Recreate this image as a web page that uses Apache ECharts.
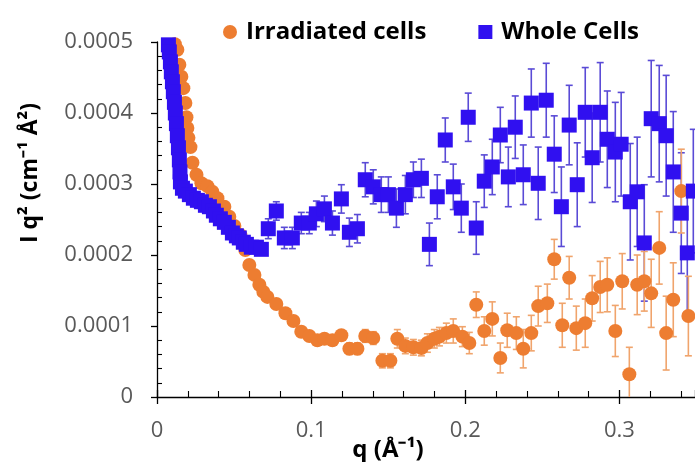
<!DOCTYPE html>
<html>
<head>
<meta charset="utf-8">
<script src="https://cdn.jsdelivr.net/npm/echarts@6/dist/echarts.min.js"></script>
<style>
html, body { margin: 0; padding: 0; background: #fff; }
#chart { width: 695px; height: 462px; }
</style>
</head>
<body>
<div id="chart"></div>
<script>
'use strict';

// intensities and errors are in units of 1e-4 cm^-1 A^-2
var UNIT = 1e-4;

var irrQ = [
    0.0116, 0.0132, 0.0145, 0.0158, 0.0171, 0.0184, 0.0191, 0.0197, 0.0204, 0.0217,
    0.0230, 0.0256, 0.0288, 0.0327, 0.0359, 0.0392, 0.0437, 0.0469, 0.0502, 0.0541,
    0.0573, 0.0599, 0.0632, 0.0664, 0.0690, 0.0716, 0.0774, 0.0833, 0.0885, 0.0936,
    0.0988, 0.1040, 0.1086, 0.1138, 0.1196, 0.1248, 0.1300, 0.1351, 0.1403, 0.1462,
    0.1514, 0.1559, 0.1611, 0.1663, 0.1715, 0.1754, 0.1799, 0.1832, 0.1877, 0.1922,
    0.1981, 0.2026, 0.2071, 0.2123, 0.2175, 0.2227, 0.2272, 0.2331, 0.2376, 0.2428,
    0.2473, 0.2532, 0.2577, 0.2629, 0.2674, 0.2720, 0.2778, 0.2823, 0.2875, 0.2921,
    0.2973, 0.3018, 0.3064, 0.3115, 0.3161, 0.3206, 0.3258, 0.3303, 0.3349, 0.3401,
    0.3447
];
var irrI = [
    4.97, 4.89, 4.68, 4.51, 4.35, 4.14, 3.94, 3.79, 3.65, 3.52,
    3.30, 3.13, 3.01, 2.97, 2.89, 2.80, 2.68, 2.54, 2.41, 2.28,
    2.07, 1.86, 1.72, 1.58, 1.48, 1.41, 1.31, 1.18, 1.07, 0.92,
    0.86, 0.80, 0.82, 0.80, 0.87, 0.68, 0.68, 0.86, 0.83, 0.51,
    0.51, 0.82, 0.72, 0.70, 0.69, 0.76, 0.82, 0.85, 0.90, 0.93,
    0.85, 0.76, 1.30, 0.93, 1.10, 0.55, 0.94, 0.90, 0.68, 0.90,
    1.28, 1.32, 1.94, 1.01, 1.68, 0.97, 1.04, 1.39, 1.55, 1.58,
    0.93, 1.63, 0.32, 1.58, 1.63, 1.46, 2.10, 0.90, 1.37, 2.90,
    1.14
];
var irrErr = [
    0, 0, 0, 0, 0, 0, 0, 0, 0, 0,
    0, 0, 0, 0, 0, 0, 0, 0, 0, 0,
    0, 0, 0, 0, 0, 0, 0, 0, 0, 0,
    0, 0, 0, 0, 0, 0.08, 0.08, 0.09, 0.09, 0.10,
    0.10, 0.13, 0.11, 0.11, 0.11, 0.13, 0.13, 0.13, 0.14, 0.17,
    0.14, 0.15, 0.18, 0.20, 0.24, 0.21, 0.24, 0.23, 0.27, 0.25,
    0.28, 0.27, 0.28, 0.31, 0.30, 0.31, 0.34, 0.32, 0.36, 0.38,
    0.36, 0.39, 0.38, 0.42, 0.42, 0.48, 0.51, 0.52, 0.52, 0.59,
    0.56
];

var wholeQ = [
    0.0074, 0.0080, 0.0087, 0.0093, 0.0100, 0.0106, 0.0113, 0.0119, 0.0126, 0.0132,
    0.0139, 0.0145, 0.0149, 0.0152, 0.0165, 0.0184,
    0.0210, 0.0236, 0.0262, 0.0288, 0.0314, 0.0340, 0.0366, 0.0385, 0.0411, 0.0437,
    0.0463, 0.0489, 0.0515, 0.0534, 0.0560, 0.0580, 0.0612, 0.0645, 0.0677,
    0.0722, 0.0774, 0.0826, 0.0878, 0.0936, 0.0988, 0.1034, 0.1086, 0.1138, 0.1196,
    0.1248, 0.1300, 0.1351, 0.1403, 0.1455, 0.1501, 0.1553, 0.1611, 0.1663, 0.1715,
    0.1767, 0.1818, 0.1870, 0.1922, 0.1974, 0.2019, 0.2071, 0.2123, 0.2175, 0.2227,
    0.2279, 0.2324, 0.2376, 0.2428, 0.2473, 0.2525, 0.2577, 0.2623, 0.2674, 0.2726,
    0.2778, 0.2823, 0.2875, 0.2921, 0.2973, 0.3011, 0.3070, 0.3115, 0.3161, 0.3206,
    0.3258, 0.3303, 0.3349, 0.3401, 0.3440, 0.3479
];
var wholeI = [
    4.96, 4.86, 4.72, 4.58, 4.44, 4.30, 4.15, 4.00, 3.85, 3.68,
    3.51, 3.34, 3.17, 3.03, 2.94, 2.90,
    2.85, 2.80, 2.77, 2.75, 2.70, 2.68, 2.62, 2.56, 2.51, 2.46,
    2.39, 2.31, 2.27, 2.24, 2.18, 2.15, 2.11, 2.11, 2.08,
    2.37, 2.62, 2.24, 2.24, 2.45, 2.45, 2.58, 2.65, 2.45, 2.79,
    2.32, 2.37, 3.06, 2.96, 2.85, 2.85, 2.66, 2.85, 3.06, 3.08,
    2.15, 2.82, 3.62, 2.96, 2.66, 3.94, 2.38, 3.04, 3.24, 3.69,
    3.10, 3.80, 3.13, 4.14, 3.01, 4.18, 3.42, 2.68, 3.83, 2.99,
    4.01, 3.37, 4.01, 3.63, 3.45, 3.56, 2.75, 2.89, 2.17, 3.92,
    3.85, 3.68, 3.17, 2.59, 2.03, 2.90
];
var wholeErr = [
    0, 0, 0, 0, 0, 0, 0, 0, 0, 0,
    0, 0, 0, 0, 0, 0,
    0.05, 0.05, 0.05, 0.05, 0.05, 0.05, 0.05, 0.05, 0.05, 0.05,
    0.05, 0.05, 0.05, 0.05, 0.05, 0.05, 0.06, 0.06, 0.06,
    0.14, 0.13, 0.15, 0.15, 0.15, 0.15, 0.18, 0.18, 0.17, 0.20,
    0.20, 0.20, 0.24, 0.24, 0.25, 0.25, 0.27, 0.27, 0.25, 0.27,
    0.30, 0.31, 0.31, 0.32, 0.34, 0.34, 0.37, 0.37, 0.39, 0.39,
    0.42, 0.44, 0.42, 0.48, 0.51, 0.52, 0.54, 0.56, 0.56, 0.59,
    0.63, 0.63, 0.70, 0.68, 0.70, 0.73, 0.82, 0.77, 0.82, 0.82,
    0.82, 0.85, 0.85, 0.85, 0.87, 0.87
];

var seriesNames = ['Irradiated cells', 'Whole Cells'];
var colors = ['#ED7D31', '#3010F0'];
var errColors = ['#F0A46C', '#5A4BD6'];

var points = function (qs, vals) {
    return qs.map(function (q, i) { return [q, vals[i] * UNIT]; });
};
var bars = function (qs, vals, errs) {
    var out = [];
    qs.forEach(function (q, i) {
        if (errs[i] > 0) {
            out.push([q, (vals[i] - errs[i]) * UNIT, (vals[i] + errs[i]) * UNIT]);
        }
    });
    return out;
};
var renderBar = function (color) {
    return function (params, api) {
        var lo = api.coord([api.value(0), api.value(1)]);
        var hi = api.coord([api.value(0), api.value(2)]);
        var cap = 3.5;
        var style = { stroke: color, lineWidth: 1.6 };
        return {
            type: 'group',
            children: [
                { type: 'line', shape: { x1: lo[0], y1: lo[1], x2: hi[0], y2: hi[1] }, style: style },
                { type: 'line', shape: { x1: lo[0] - cap, y1: lo[1], x2: lo[0] + cap, y2: lo[1] }, style: style },
                { type: 'line', shape: { x1: hi[0] - cap, y1: hi[1], x2: hi[0] + cap, y2: hi[1] }, style: style }
            ]
        };
    };
};

var X_MAX = 0.349;
var labelFont = { fontFamily: 'Open Sans', fontSize: 22, color: '#595959' };

var chart = echarts.init(document.getElementById('chart'));
chart.setOption({
    animation: false,
    backgroundColor: '#fff',
    grid: { left: 157, right: 0, top: 42, bottom: 65 },
    legend: {
        data: [
            { name: seriesNames[0], icon: 'circle' },
            { name: seriesNames[1], icon: 'rect' }
        ],
        left: 218,
        top: 15,
        itemWidth: 14,
        itemHeight: 14,
        itemGap: 52,
        textStyle: { fontFamily: 'Open Sans', fontWeight: 'bold', fontSize: 24, color: '#000', padding: [0, 0, 0, 4] }
    },
    xAxis: [{
        type: 'value', min: 0, max: X_MAX, interval: 0.1, position: 'bottom',
        axisLine: { lineStyle: { color: '#000', width: 1.3 } },
        axisTick: { length: 7, lineStyle: { color: '#000', width: 1.3 } },
        axisLabel: Object.assign({ margin: 23, showMaxLabel: false, formatter: function (v) { return v === 0 ? '0' : v.toFixed(1); } }, labelFont),
        splitLine: { show: false }
    }, {
        type: 'value', min: 0, max: X_MAX, interval: 0.1, position: 'bottom',
        axisLine: { show: false },
        axisLabel: { show: false },
        axisTick: { show: true, inside: true, length: 7, lineStyle: { color: '#000', width: 1.3 } },
        minorTick: { show: true, splitNumber: 5, length: 6, lineStyle: { color: '#000', width: 1.1 } },
        splitLine: { show: false }
    }],
    yAxis: [{
        type: 'value', min: 0, max: 0.0005, interval: 0.0001, position: 'left',
        axisLine: { show: true, lineStyle: { color: '#000', width: 1.3 } },
        axisTick: { show: true, length: 6, lineStyle: { color: '#000', width: 1.3 } },
        axisLabel: Object.assign({ margin: 24, formatter: function (v) { return v === 0 ? '0' : v.toFixed(4); } }, labelFont),
        splitLine: { show: false }
    }, {
        type: 'value', min: 0, max: 0.0005, interval: 0.0001, position: 'left',
        axisLine: { show: false },
        axisLabel: { show: false },
        axisTick: { show: false, inside: true },
        minorTick: { show: true, splitNumber: 5, length: 5, lineStyle: { color: '#000', width: 1.1 } },
        splitLine: { show: false }
    }],
    graphic: [{
        type: 'text', x: 30, y: 173, rotation: Math.PI / 2,
        style: {
            text: 'I q\u00B2 (cm\u207B\u00B9 \u00C5\u00B2)', textAlign: 'center', textVerticalAlign: 'middle',
            fontFamily: 'Open Sans', fontWeight: 'bold', fontSize: 23, fill: '#000'
        }
    }, {
        type: 'text', x: 388, y: 450,
        style: {
            text: 'q (\u00C5\u207B\u00B9)', textAlign: 'center', textVerticalAlign: 'middle',
            fontFamily: 'Open Sans', fontWeight: 'bold', fontSize: 24, fill: '#000'
        }
    }],
    series: [{
        name: 'whole-err', type: 'custom', clip: true,
        renderItem: renderBar(errColors[1]),
        encode: { x: 0, y: [1, 2] },
        data: bars(wholeQ, wholeI, wholeErr)
    }, {
        name: 'irr-err', type: 'custom', clip: true,
        renderItem: renderBar(errColors[0]),
        encode: { x: 0, y: [1, 2] },
        data: bars(irrQ, irrI, irrErr)
    }, {
        name: seriesNames[0], type: 'scatter', symbol: 'circle', symbolSize: 14,
        itemStyle: { color: colors[0], opacity: 1 },
        data: points(irrQ, irrI)
    }, {
        name: seriesNames[1], type: 'scatter', symbol: 'rect', symbolSize: 15,
        itemStyle: { color: colors[1], opacity: 1 },
        data: points(wholeQ, wholeI)
    }]
});
</script>
</body>
</html>
